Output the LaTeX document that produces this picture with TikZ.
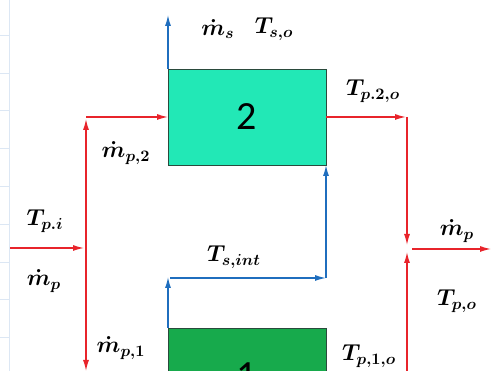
\RequirePackage{fix-cm}
\documentclass[tikz,border=0pt]{standalone}
\usepackage{fontspec}
\newfontfamily\digitfont{Carlito}
\usetikzlibrary{arrows.meta}
\definecolor{boxtwo}{HTML}{22E8B6}
\definecolor{boxone}{HTML}{17AA4C}
\definecolor{boxedge}{HTML}{2A4A3C}
\definecolor{hotred}{HTML}{E8242B}
\definecolor{coolblue}{HTML}{1F6EBE}
\definecolor{gridblue}{HTML}{DCE7F4}
\tikzset{
  hx/.style={draw=boxedge, line width=0.9pt, minimum width=158pt, minimum height=96pt, inner sep=0pt, outer sep=0pt, font=\digitfont\fontsize{40}{44}\selectfont},
  redflow/.style={draw=hotred, line width=1.3pt, -{Latex[length=11pt,width=6pt]}},
  blueflow/.style={draw=coolblue, line width=1.3pt, -{Latex[length=11pt,width=6pt]}},
  lbl/.style={inner sep=0pt, font=\fontsize{14.4}{17}\selectfont\boldmath, scale=1.6, transform shape},
  gridln/.style={draw=gridblue, line width=0.6pt}
}
\begin{document}
\begin{tikzpicture}[x=1pt, y=-1pt]
\useasboundingbox (0,0) rectangle (491,371);
\clip (0,0) rectangle (491,371);
% faint sheet grid
\draw[gridln] (9,0) -- (9,371);
\foreach \yy in {35,73,110,148,186,224,262,299,337}
  \draw[gridln] (0,\yy) -- (9,\yy);
% boxes
\node[hx, fill=boxtwo] (b2) at (247,117) {2};
\node[hx, fill=boxone] (b1) at (247,376) {1};
% coordinates
\coordinate (pin) at (10,248);
\coordinate (j1) at (84,248);
\coordinate (j1v) at (86,248);
\coordinate (upend) at (86,119);
\coordinate (c2) at (86,117);
\coordinate (downend) at (86,371);
\coordinate (c3) at (406,117);
\coordinate (c3v) at (407,117);
\coordinate (j2top) at (407,245);
\coordinate (j2bot) at (407,252);
\coordinate (bot2) at (407,371);
\coordinate (outs) at (412,249);
\coordinate (oute) at (491,249);
\coordinate (sout) at (168,15);
\coordinate (sup1) at (168,277);
\coordinate (sh1) at (170,278);
\coordinate (sh2) at (326,278);
% red hot stream
\draw[redflow] (pin) -- (j1);
\draw[redflow] (j1v) -- (upend);
\draw[redflow] (c2) -- (b2.west);
\draw[redflow] (j1v) -- (downend);
\draw[redflow] (b2.east) -- (c3);
\draw[redflow] (c3v) -- (j2top);
\draw[redflow] (bot2) -- (j2bot);
\draw[redflow] (outs) -- (oute);
% blue cold stream
\draw[blueflow] (b2.north west) -- (sout);
\draw[blueflow] (b1.north west) -- (sup1);
\draw[blueflow] (sh1) -- (sh2);
\draw[blueflow] (sh2) -- (b2.south east);
% labels
\node[lbl] (lms) at (218,29) {$\dot{m}_s$};
\node[lbl] (ltso) at (274,29) {$T_{s,o}$};
\node[lbl] (lmp2) at (126,153) {$\dot{m}_{p,2}$};
\node[lbl] (ltp2o) at (373,91) {$T_{p.2,o}$};
\node[lbl] (ltpi) at (45,221) {$T_{p.i}$};
\node[lbl] (lmpl) at (44,281) {$\dot{m}_p$};
\node[lbl] (lmp1) at (121,348) {$\dot{m}_{p,1}$};
\node[lbl] (ltsint) at (234,257) {$T_{s,int}$};
\node[lbl] (lmpr) at (457,231) {$\dot{m}_p$};
\node[lbl] (ltpo) at (457,301) {$T_{p,o}$};
\node[lbl] (ltp1o) at (369,356) {$T_{p,1,o}$};
\end{tikzpicture}
\end{document}
